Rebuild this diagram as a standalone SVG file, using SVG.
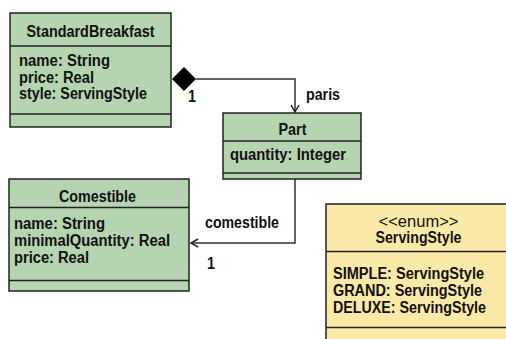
<svg xmlns="http://www.w3.org/2000/svg" width="506" height="339" viewBox="0 0 506 339">
<defs>
<style>
.box{fill:#b5d4b0;stroke:#222;stroke-width:1.5}
.enum{fill:#fbe9a8;stroke:#222;stroke-width:1.5}
.div{stroke:#222;stroke-width:1.5}
.t{font-family:"Liberation Sans",Arial,sans-serif;font-size:16px;font-weight:bold;fill:#111}
.c{text-anchor:middle}
.n{font-weight:normal}
.conn{fill:none;stroke:#333;stroke-width:1.5}
</style>
<marker id="open" viewBox="0 0 10 10" refX="9" refY="5" markerWidth="10" markerHeight="10" markerUnits="userSpaceOnUse" orient="auto">
<path d="M2,1 L9,5 L2,9" fill="none" stroke="#222" stroke-width="1.5"/>
</marker>
</defs>
<rect width="506" height="339" fill="#fff"/>

<g id="connectors">
<path class="conn" d="M196,79 H295 V112" marker-end="url(#open)"/>
<polygon points="172,79 184,67 196,79 184,91" fill="#000"/>
<text class="t" x="188" y="102" textLength="8" lengthAdjust="spacingAndGlyphs">1</text>
<text class="t" x="306" y="100" textLength="34" lengthAdjust="spacingAndGlyphs">paris</text>
<path class="conn" d="M295,179 V243 H191" marker-end="url(#open)"/>
<text class="t" x="205" y="228" textLength="74" lengthAdjust="spacingAndGlyphs">comestible</text>
<text class="t" x="207" y="269" textLength="8" lengthAdjust="spacingAndGlyphs">1</text>
</g>

<g id="StandardBreakfast">
<rect class="box" x="10" y="13" width="161" height="114"/>
<line class="div" x1="10" y1="46" x2="171" y2="46"/>
<line class="div" x1="10" y1="114" x2="171" y2="114"/>
<text class="t c" x="90.5" y="37" textLength="128" lengthAdjust="spacingAndGlyphs">StandardBreakfast</text>
<text class="t" x="19" y="66" textLength="91" lengthAdjust="spacingAndGlyphs">name: String</text>
<text class="t" x="19" y="82.7" textLength="75" lengthAdjust="spacingAndGlyphs">price: Real</text>
<text class="t" x="19" y="99.4" textLength="128" lengthAdjust="spacingAndGlyphs">style: ServingStyle</text>
</g>

<g id="Part">
<rect class="box" x="223" y="113" width="138" height="66"/>
<line class="div" x1="223" y1="141" x2="361" y2="141"/>
<line class="div" x1="223" y1="173" x2="361" y2="173"/>
<text class="t c" x="292.5" y="135" textLength="28" lengthAdjust="spacingAndGlyphs">Part</text>
<text class="t" x="230" y="160" textLength="116" lengthAdjust="spacingAndGlyphs">quantity: Integer</text>
</g>

<g id="Comestible">
<rect class="box" x="9" y="179" width="180" height="112"/>
<line class="div" x1="9" y1="207.5" x2="189" y2="207.5"/>
<line class="div" x1="9" y1="280.5" x2="189" y2="280.5"/>
<text class="t c" x="97.5" y="201.5" textLength="77" lengthAdjust="spacingAndGlyphs">Comestible</text>
<text class="t" x="14" y="229.3" textLength="91" lengthAdjust="spacingAndGlyphs">name: String</text>
<text class="t" x="14" y="246" textLength="156" lengthAdjust="spacingAndGlyphs">minimalQuantity: Real</text>
<text class="t" x="14" y="262.5" textLength="75" lengthAdjust="spacingAndGlyphs">price: Real</text>
</g>

<g id="ServingStyle">
<rect class="enum" x="326" y="204" width="200" height="150"/>
<line class="div" x1="326" y1="251.5" x2="506" y2="251.5"/>
<line class="div" x1="326" y1="327.5" x2="506" y2="327.5"/>
<text class="t c n" x="418.5" y="227" textLength="80" lengthAdjust="spacingAndGlyphs">&lt;&lt;enum&gt;&gt;</text>
<text class="t c" x="418.5" y="243" textLength="86" lengthAdjust="spacingAndGlyphs">ServingStyle</text>
<text class="t" x="333" y="279.3" textLength="151" lengthAdjust="spacingAndGlyphs">SIMPLE: ServingStyle</text>
<text class="t" x="333" y="295.8" textLength="149" lengthAdjust="spacingAndGlyphs">GRAND: ServingStyle</text>
<text class="t" x="333" y="312.5" textLength="153" lengthAdjust="spacingAndGlyphs">DELUXE: ServingStyle</text>
</g>
</svg>
